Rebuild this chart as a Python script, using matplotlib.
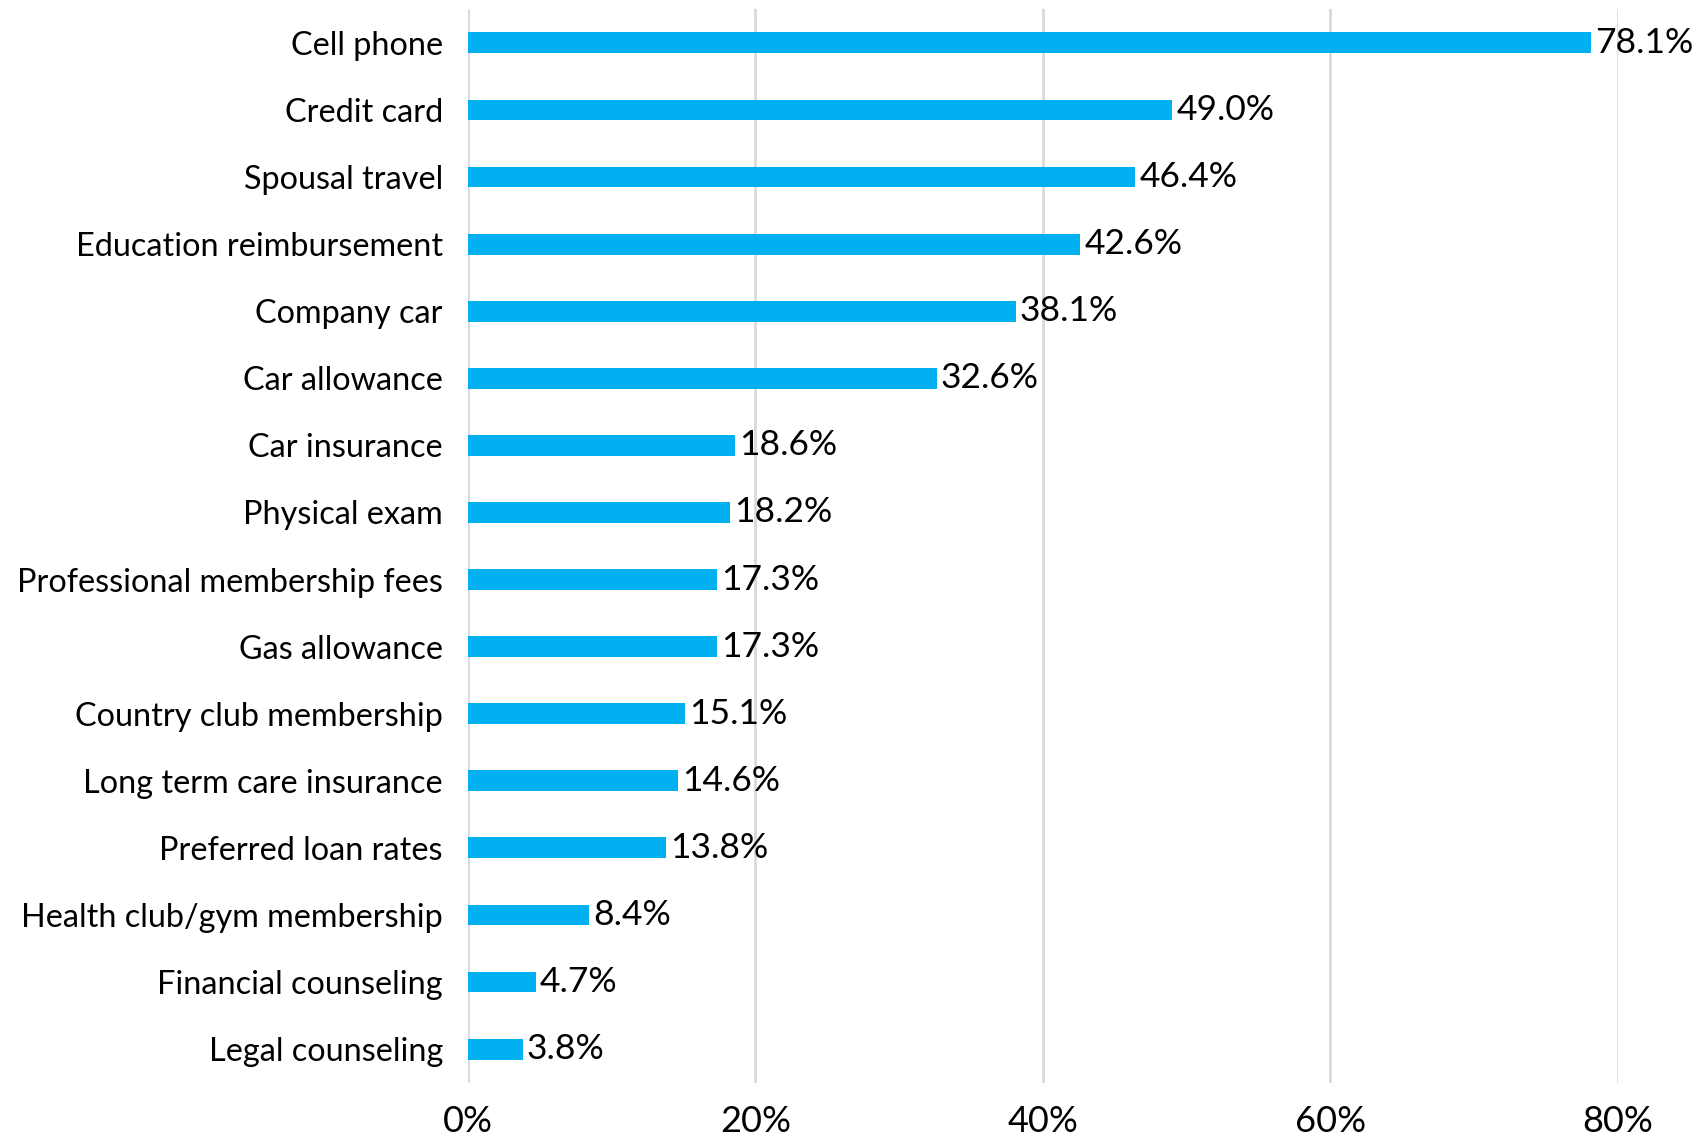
import matplotlib
matplotlib.use("Agg")
import matplotlib.pyplot as plt
from matplotlib.ticker import FuncFormatter

categories = [
    "Cell phone", "Credit card", "Spousal travel", "Education reimbursement",
    "Company car", "Car allowance", "Car insurance", "Physical exam",
    "Professional membership fees", "Gas allowance", "Country club membership",
    "Long term care insurance", "Preferred loan rates",
    "Health club/gym membership", "Financial counseling", "Legal counseling",
]
values = [78.1, 49.0, 46.4, 42.6, 38.1, 32.6, 18.6, 18.2,
          17.3, 17.3, 15.1, 14.6, 13.8, 8.4, 4.7, 3.8]
x_ticks = [0, 20, 40, 60, 80]

plt.rcParams["font.family"] = ["Lato", "DejaVu Sans"]

fig = plt.figure(figsize=(17.08, 11.37), dpi=100)
ax = fig.add_axes([0.274, 0.0478, 0.6733, 0.9440])

pos = list(range(len(categories)))
ax.barh(pos, values, height=0.31, color="#00B0F0", zorder=3)

for y, v in zip(pos, values):
    ax.annotate(f"{v:.1f}%", xy=(v, y), xytext=(3, 0), textcoords="offset points",
                ha="left", va="center", fontsize=25.5, color="#000000", zorder=4)

ax.set_ylim(len(categories) - 0.5, -0.5)
ax.set_xlim(0, 80)
ax.set_yticks(pos)
ax.set_yticklabels(categories, fontsize=23.3)
ax.set_xticks(x_ticks)
ax.xaxis.set_major_formatter(FuncFormatter(lambda v, _: f"{v:.0f}%"))
ax.tick_params(axis="x", labelsize=26, length=0, pad=16)
ax.tick_params(axis="y", length=0, pad=18)

ax.grid(axis="x", color="#D9D9D9", linewidth=2, zorder=0)
for s in ax.spines.values():
    s.set_visible(False)

fig.savefig("out.png", dpi=100)
